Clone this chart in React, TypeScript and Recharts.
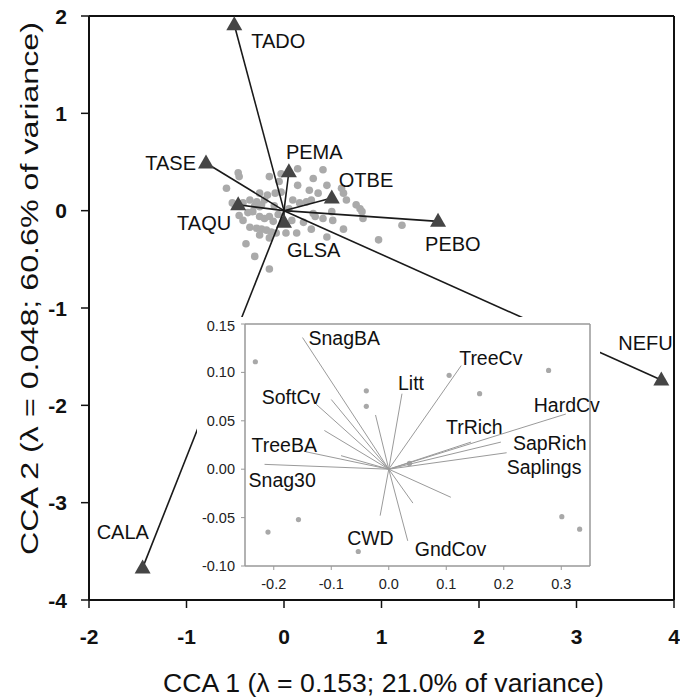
import React from "react";
import { ScatterChart, Scatter, XAxis, YAxis, ReferenceLine } from "recharts";

// species scores (triangles, drawn as arrows from the origin)
const speciesNames = ["TADO", "TASE", "PEMA", "OTBE", "TAQU", "GLSA", "PEBO", "NEFU", "CALA"];
const speciesCca1 = [-0.51, -0.8, 0.05, 0.49, -0.47, 0.0, 1.58, 3.87, -1.45];
const speciesCca2 = [1.91, 0.49, 0.4, 0.13, 0.06, -0.12, -0.11, -1.74, -3.67];

// site scores (grey dots)
const siteCca1 = [
  -0.47, -0.46, -0.59, -0.15, -0.03, 0.14, 0.4, 0.3, 0.14, 0.26, 0.44, 0.35, -0.05, -0.03, -0.25,
  -0.17, -0.09, -0.53, -0.42, -0.35, -0.28, -0.23, -0.2, -0.3, -0.32, -0.46, -0.42, -0.25, -0.2,
  -0.15, -0.11, -0.35, -0.28, -0.23, -0.18, -0.13, -0.08, -0.15, -0.25, -0.39, -0.3, -0.15, 0.02,
  0.13, 0.16, 0.09, 0.23, 0.3, 0.4, 0.5, 0.44, 0.61, 0.61, 0.64, 0.74, 0.78, 0.81, 0.97, 0.59, 0.28,
  0.49, 0.32, 0.28, 1.21, 0.8, -0.5, -0.25, -0.1, 0.05, -0.06, -0.37, 0.2, 0.08,
];
const siteCca2 = [
  0.39, 0.35, 0.23, 0.35, 0.38, 0.43, 0.42, 0.33, 0.26, 0.21, 0.26, 0.18, 0.3, 0.19, 0.18,
  0.16, 0.18, 0.08, 0.08, 0.11, 0.09, 0.06, 0.11, 0.05, -0.01, -0.05, -0.1, -0.06, -0.08,
  -0.06, -0.11, -0.17, -0.18, -0.19, -0.2, -0.22, -0.23, -0.28, -0.25, -0.34, -0.47, -0.6, -0.23,
  -0.23, 0.08, 0.11, 0.09, -0.03, -0.08, -0.1, -0.27, -0.19, 0.18, 0.11, 0.06, 0.02, -0.08, -0.3, 0.23, 0.11,
  -0.01, -0.06, -0.19, -0.15, -0.01, 0.05, 0.04, 0.05, 0.02, -0.04, -0.02, -0.12, -0.1,
];

// environmental vectors (inset)
const envNames = [
  "SnagBA", "", "SoftCv", "", "", "TreeBA", "", "Snag30", "Litt", "TreeCv", "TrRich", "HardCv",
  "SapRich", "Saplings", "CWD", "GndCov", "", "",
];
const envCca1 = [
  -0.15, -0.1, -0.126, -0.023, -0.112, -0.144, -0.083, -0.216, 0.023, 0.126, 0.143, 0.308,
  0.195, 0.205, -0.015, 0.033, 0.042, 0.108,
];
const envCca2 = [
  0.136, 0.072, 0.067, 0.056, 0.04, 0.018, 0.014, 0.005, 0.078, 0.107, 0.028, 0.057,
  0.028, 0.017, -0.048, -0.074, -0.035, -0.029,
];

// site points shown in the inset
const insetSiteCca1 = [-0.232, -0.039, -0.039, 0.105, 0.158, 0.278, 0.301, 0.332, -0.157, -0.21, -0.053, 0.036];
const insetSiteCca2 = [0.111, 0.081, 0.065, 0.097, 0.078, 0.102, -0.049, -0.062, -0.052, -0.065, -0.085, 0.006];

const mainTicksX = [-2, -1, 0, 1, 2, 3, 4];
const mainTicksY = [-4, -3, -2, -1, 0, 1, 2];
const insetTicksX = [-0.2, -0.1, 0, 0.1, 0.2, 0.3];
const insetTicksY = [-0.1, -0.05, 0, 0.05, 0.1, 0.15];

const FONT = '"Liberation Sans", Arial, Helvetica, sans-serif';

// label placement relative to the marker: [dx, dy, anchor]
const speciesLabelPos: Record<string, [number, number, string]> = {
  TADO: [17, 16, "start"],
  TASE: [-10, 0, "end"],
  PEMA: [-3, -20, "start"],
  OTBE: [7, -18, "start"],
  TAQU: [-7, 18, "end"],
  GLSA: [3, 28, "start"],
  PEBO: [-13, 23, "start"],
  NEFU: [-43, -37, "start"],
  CALA: [-46, -36, "start"],
};

const envLabelPos: Record<string, [number, number, string]> = {
  SnagBA: [6, 0, "start"],
  SoftCv: [4, -7, "end"],
  TreeBA: [11, -7, "end"],
  Snag30: [-16, 16, "start"],
  Litt: [-4, -11, "start"],
  TreeCv: [-2, -8, "start"],
  TrRich: [-25, -15, "start"],
  HardCv: [34, -9, "end"],
  SapRich: [12, 1, "start"],
  Saplings: [0, 14, "start"],
  CWD: [-33, 22, "start"],
  GndCov: [7, 8, "start"],
};

const sites = siteCca1.map((x, i) => ({ x, y: siteCca2[i] }));
const species = speciesNames.map((name, i) => [
  { x: 0, y: 0, name, tip: false },
  { x: speciesCca1[i], y: speciesCca2[i], name, tip: true },
]);
const envVectors = envNames.map((name, i) => [
  { x: 0, y: 0, name, tip: false },
  { x: envCca1[i], y: envCca2[i], name, tip: true },
]);
const insetSites = insetSiteCca1.map((x, i) => ({ x, y: insetSiteCca2[i] }));

const Dot = (r: number, fill: string) => (props: any) =>
  <circle cx={props.cx} cy={props.cy} r={r} fill={fill} />;

const SpeciesTip = (props: any) => {
  const { cx, cy, payload } = props;
  if (!payload || !payload.tip) return <g />;
  const [dx, dy, anchor] = speciesLabelPos[payload.name];
  return (
    <g>
      <polygon points={`${cx},${cy - 8.5} ${cx - 8},${cy + 5.5} ${cx + 8},${cy + 5.5}`} fill="#454545" />
      <text x={cx + dx} y={cy + dy} textAnchor={anchor as any} dominantBaseline="central"
        fontSize={20} fontFamily={FONT} fill="#111">{payload.name}</text>
    </g>
  );
};

const EnvTip = (props: any) => {
  const { cx, cy, payload } = props;
  if (!payload || !payload.tip || !payload.name) return <g />;
  const [dx, dy, anchor] = envLabelPos[payload.name];
  return (
    <text x={cx + dx} y={cy + dy} textAnchor={anchor as any} dominantBaseline="central"
      fontSize={19.5} fontFamily={FONT} fill="#111">{payload.name}</text>
  );
};

const renderMainXTick = (props: any) => (
  <text x={props.x} y={props.y + 8} textAnchor="middle" dominantBaseline="central"
    style={{ fontSize: 21, fontWeight: 700, fontFamily: FONT }} fill="#111">{props.payload.value}</text>
);
const renderMainYTick = (props: any) => (
  <text x={props.x} y={props.y} textAnchor="end" dominantBaseline="central"
    style={{ fontSize: 21, fontWeight: 700, fontFamily: FONT }} fill="#111">{props.payload.value}</text>
);
const renderInsetXTick = (props: any) => (
  <text x={props.x} y={props.y + 5} textAnchor="middle" dominantBaseline="central"
    style={{ fontSize: 14.5, fontFamily: FONT }} fill="#222">{Number(props.payload.value).toFixed(1)}</text>
);
const renderInsetYTick = (props: any) => (
  <text x={props.x} y={props.y} textAnchor="end" dominantBaseline="central"
    style={{ fontSize: 14.5, fontFamily: FONT }} fill="#222">{Number(props.payload.value).toFixed(2)}</text>
);

const XTitle = () => (
  <text x={383.5} y={692} textAnchor="middle" fontSize={25} fontFamily={FONT} fill="#111"
    textLength={441} lengthAdjust="spacingAndGlyphs">CCA 1 (λ = 0.153; 21.0% of variance)</text>
);

const YTitle = () => (
  <text x={0} y={0} transform="translate(38,288.5) rotate(-90)" textAnchor="middle" fontSize={23}
    fontFamily={FONT} fill="#111" textLength={533} lengthAdjust="spacingAndGlyphs">
    CCA 2 (λ = 0.048; 60.6% of variance)
  </text>
);

export default function App() {
  return (
    <div style={{ position: "absolute", left: 0, top: 0, width: 680, height: 698, background: "#fff" }}>
      <ScatterChart width={680} height={698} margin={{ top: 16, right: 6, bottom: 38, left: 0 }}>
        <XAxis type="number" dataKey="x" domain={[-2, 4]} ticks={mainTicksX}
          height={60} tick={renderMainXTick} tickSize={8} tickMargin={20}
          axisLine={{ stroke: "#111", strokeWidth: 2 }} tickLine={{ stroke: "#111", strokeWidth: 1.5 }}
          label={<XTitle />} />
        <YAxis type="number" dataKey="y" domain={[-4, 2]} ticks={mainTicksY}
          width={89} tick={renderMainYTick} tickSize={8} tickMargin={14}
          axisLine={{ stroke: "#111", strokeWidth: 2 }} tickLine={{ stroke: "#111", strokeWidth: 1.5 }}
          label={<YTitle />} />
        <ReferenceLine y={2} stroke="#111" strokeWidth={2} />
        <ReferenceLine x={4} stroke="#111" strokeWidth={2} />
        <Scatter data={sites} shape={Dot(3.8, "#aaa")} isAnimationActive={false} />
        {species.map((d, i) => (
          <Scatter key={i} data={d} line={{ stroke: "#1a1a1a", strokeWidth: 1.6 }} lineType="joint"
            shape={SpeciesTip} isAnimationActive={false} />
        ))}
      </ScatterChart>

      <div style={{ position: "absolute", left: 197, top: 317, width: 403, height: 280, background: "#fff" }}>
        <ScatterChart width={403} height={280} margin={{ top: 7, right: 10, bottom: 0, left: 0 }}>
          <XAxis type="number" dataKey="x" domain={[-0.25, 0.35]} ticks={insetTicksX}
            height={31} tick={renderInsetXTick} tickSize={4} tickMargin={9}
            axisLine={{ stroke: "#999", strokeWidth: 1.5 }} tickLine={{ stroke: "#999" }} />
          <YAxis type="number" dataKey="y" domain={[-0.1, 0.15]} ticks={insetTicksY}
            width={48} tick={renderInsetYTick} tickSize={4} tickMargin={6}
            axisLine={{ stroke: "#999", strokeWidth: 1.5 }} tickLine={{ stroke: "#999" }} />
          <ReferenceLine y={0.15} stroke="#999" strokeWidth={1.5} />
          <ReferenceLine x={0.35} stroke="#999" strokeWidth={1.5} />
          <Scatter data={insetSites} shape={Dot(2.6, "#a8a8a8")} isAnimationActive={false} />
          {envVectors.map((d, i) => (
            <Scatter key={i} data={d} line={{ stroke: "#9a9a9a", strokeWidth: 1 }} lineType="joint"
              shape={EnvTip} isAnimationActive={false} />
          ))}
        </ScatterChart>
      </div>
    </div>
  );
}
